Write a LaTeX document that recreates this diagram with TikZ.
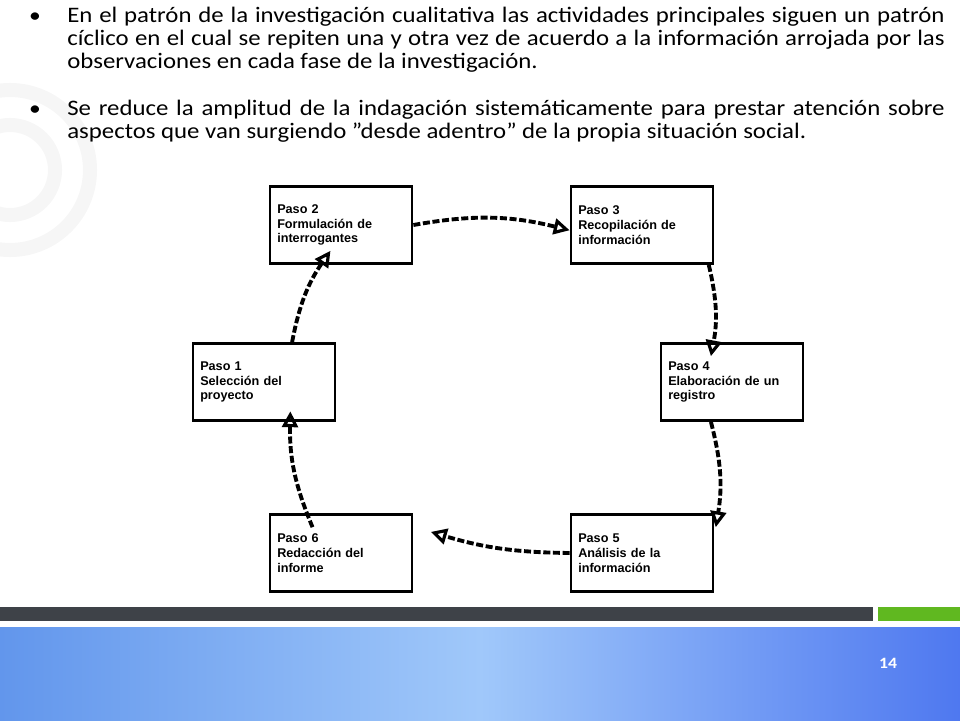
\documentclass[tikz,border=0pt]{standalone}
\usepackage{fontspec}
\setmainfont{Carlito}[FakeStretch=1.12]
\newfontfamily\boxfont{Liberation Sans}
\usetikzlibrary{arrows.meta}
\definecolor{bandgrey}{RGB}{62,66,72}
\definecolor{bandgreen}{RGB}{96,184,32}
\definecolor{skyA}{RGB}{98,150,236}
\definecolor{skyB}{RGB}{160,200,250}
\newcommand\nohyph{\hyphenpenalty=10000\relax}
\begin{document}
\begin{tikzpicture}
  [x=0.02cm,y=-0.02cm,
   stepbox/.style={draw,line width=1.6pt,minimum width=2.84cm,minimum height=1.54cm,
     text width=2.55cm,align=left,font=\boxfont\bfseries\fontsize{7.2}{8.4}\selectfont\nohyph},
   bullettext/.style={anchor=north west,text width=17.55cm,align=justify,inner sep=0pt,
     font=\fontsize{12.6}{13.1}\selectfont},
   cyc/.style={line width=2.2pt,dash pattern=on 4pt off 1.5pt,-{Triangle[open,length=9pt,width=9pt,line width=1.8pt]}}]
  \useasboundingbox (0,0) rectangle (960,720);
  % background swirl
  \foreach \r in {45,80}
    \draw[gray!7,line width=8pt] (10,170) circle (\r);
  % bottom bands
  \fill[bandgrey] (0,607) rectangle (873,621);
  \fill[bandgreen] (878,607) rectangle (960,621);
  \shade[left color=skyA,right color=skyA!80!blue,middle color=skyB] (0,627) rectangle (960,720);
  \node[white,font=\bfseries\fontsize{9}{10}\selectfont] (pg) at (888,663) {14};
  % bullets
  \node[bullettext] (t1) at (67,7)
    {En el patrón de la investigación cualitativa las actividades principales siguen un patrón cíclico en el cual se repiten una y otra vez de acuerdo a la información arrojada por las observaciones en cada fase de la investigación.};
  \node[bullettext] (t2) at (67,100)
    {Se reduce la amplitud de la indagación sistemáticamente para prestar atención sobre aspectos que van surgiendo \char"22desde adentro\char"22{} de la propia situación social.};
  \node[font=\fontsize{12}{12}\selectfont] (b1) at (35,18) {•};
  \node[font=\fontsize{12}{12}\selectfont] (b2) at (35,111) {•};
  % steps
  \node[stepbox] (s2) at (341,225) {Paso 2\\Formulación de interrogantes};
  \node[stepbox] (s3) at (642,225) {Paso 3\\Recopilación de información};
  \node[stepbox] (s1) at (264,382) {Paso 1\\Selección del proyecto};
  \node[stepbox] (s4) at (732,382) {Paso 4\\Elaboración de un registro};
  \node[stepbox] (s6) at (341,553) {Paso 6\\Redacción del informe};
  \node[stepbox] (s5) at (642,553) {Paso 5\\Análisis de la información};
  \draw[cyc] ([xshift=16]s1.north) to[bend left=12] ([xshift=-6,yshift=8]s2.south);
  \draw[cyc] (s2.east) to[bend left=12] ([yshift=-3]s3.west);
  \draw[cyc] ([xshift=38]s3.south) to[bend left=12] ([xshift=-12,yshift=-8]s4.north);
  \draw[cyc] ([xshift=-12]s4.south) to[bend left=12] ([xshift=42,yshift=-8]s5.north);
  \draw[cyc] (s5.west) to[bend left=8] ([xshift=10,yshift=12]s6.east);
  \draw[cyc] ([xshift=25,yshift=-8]s6.north west) to[bend left=12] ([xshift=15,yshift=6]s1.south);
\end{tikzpicture}
\end{document}
